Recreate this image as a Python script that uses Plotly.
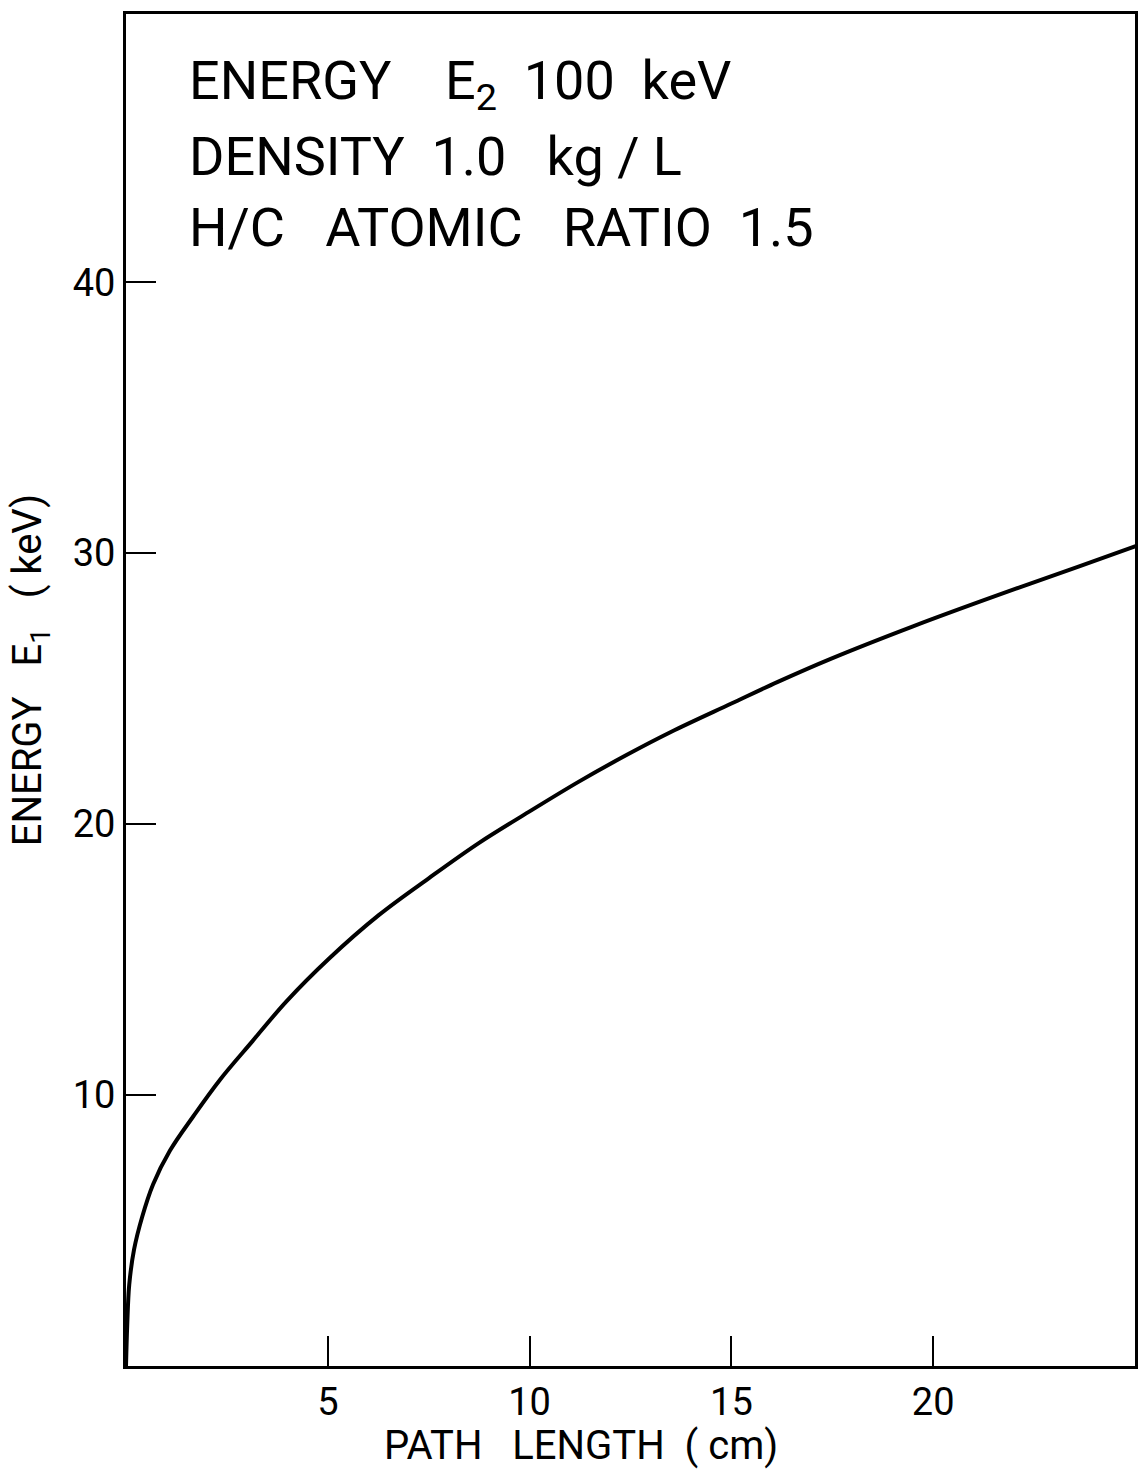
import plotly.graph_objects as go

path_length_cm = [0, 0.03, 0.08, 0.2, 0.4, 0.67, 1.09, 1.66, 2.32, 3.14, 3.97, 5.04,
                  6.27, 7.5, 8.74, 9.98, 11.2, 12.4, 13.5, 15.0, 16.15, 17.46, 19.5,
                  21.6, 23.6, 25.1]
energy_e1_kev = [0, 1.5, 3.0, 4.3, 5.5, 6.7, 7.95, 9.2, 10.55, 12.0, 13.45, 15.05,
                 16.65, 18.0, 19.3, 20.45, 21.55, 22.55, 23.4, 24.45, 25.25, 26.1, 27.3,
                 28.45, 29.5, 30.3]

x_ticks = [5, 10, 15, 20]
y_ticks = [10, 20, 30, 40]

S = "\u00a0"
info_lines = [
    "ENERGY" + S * 4 + "E<sub>2</sub>" + S * 2 + "100" + S * 2 + "keV",
    "DENSITY" + S * 2 + "1.0" + S * 3 + "kg" + S + "/" + S + "L",
    "H/C" + S * 3 + "ATOMIC" + S * 3 + "RATIO" + S * 2 + "1.5",
]
x_title = "PATH" + S * 3 + "LENGTH" + S * 2 + "(" + S + "cm)"
y_title = "ENERGY" + S * 3 + "E<sub>1</sub>" + S * 3 + "(" + S + "keV)"

FONT = "Roboto, DejaVu Sans, sans-serif"

# plot-area geometry in pixels (for placing annotations)
L, R, T, B = 126, 6, 14, 109
W, H = 1144, 1475
PW, PH = W - L - R, H - T - B

fig = go.Figure()
fig.add_trace(go.Scatter(
    x=path_length_cm, y=energy_e1_kev, mode="lines",
    line=dict(color="black", width=4, shape="spline", smoothing=1.0),
    showlegend=False, hoverinfo="skip",
))

for i, txt in enumerate(info_lines):
    fig.add_annotation(
        x=(187 - L) / PW, xref="paper", xanchor="left",
        y=1 - (70 + 72 * i) / PH, yref="paper", yanchor="middle",
        text=txt, showarrow=False,
        font=dict(family=FONT, size=54, color="black"),
    )

fig.add_annotation(
    x=(582 - L) / PW, xref="paper", xanchor="center",
    y=-(1445 - (H - B)) / PH, yref="paper", yanchor="middle",
    text=x_title, showarrow=False,
    font=dict(family=FONT, size=40, color="black"),
)
fig.add_annotation(
    x=(30 - L) / PW, xref="paper", xanchor="center",
    y=((H - B) - 670) / PH, yref="paper", yanchor="middle",
    text=y_title, showarrow=False, textangle=-90,
    font=dict(family=FONT, size=40, color="black"),
)

fig.update_xaxes(
    range=[0, 25], tickvals=x_ticks, ticktext=[str(v) for v in x_ticks],
    ticks="inside", ticklen=30, tickwidth=2, tickcolor="black",
    showline=True, linecolor="black", linewidth=3, mirror=True,
    showgrid=False, zeroline=False,
    tickfont=dict(family=FONT, size=38, color="black"),
)
fig.update_yaxes(
    range=[0, 49.9], tickvals=y_ticks, ticktext=[str(v) for v in y_ticks],
    ticks="inside", ticklen=30, tickwidth=2, tickcolor="black",
    showline=True, linecolor="black", linewidth=3, mirror=True,
    showgrid=False, zeroline=False,
    tickfont=dict(family=FONT, size=38, color="black"),
)

fig.update_layout(
    width=W, height=H,
    margin=dict(l=L, r=R, t=T, b=B),
    paper_bgcolor="white", plot_bgcolor="white",
)

fig.write_html("out.html")
